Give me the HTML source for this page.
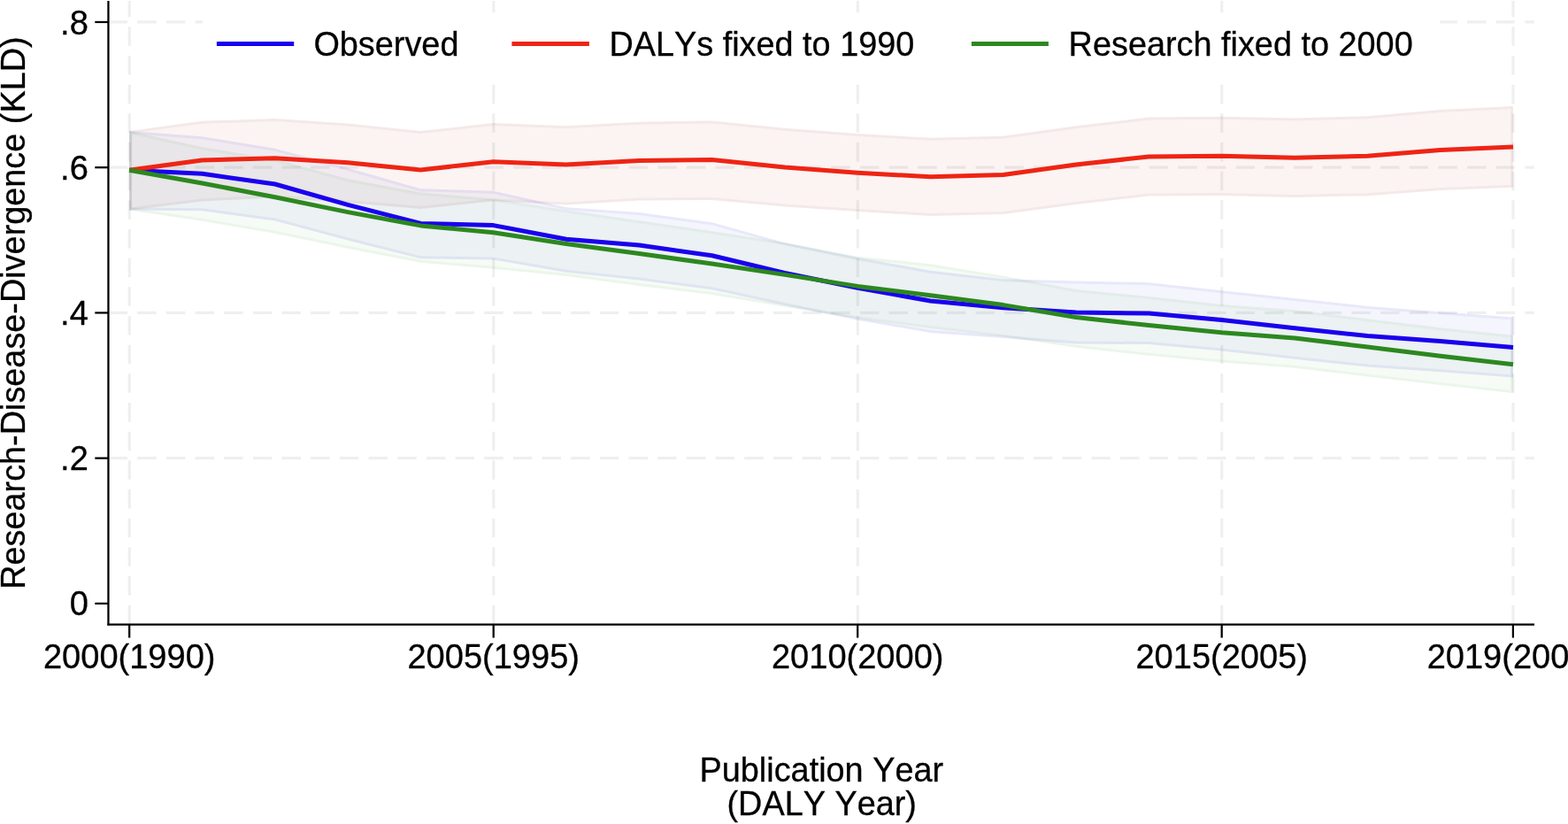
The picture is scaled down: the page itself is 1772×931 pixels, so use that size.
<!DOCTYPE html>
<html lang="en">
<head>
<meta charset="utf-8">
<title>Research-Disease-Divergence (KLD)</title>
<style>
html,body{margin:0;padding:0;background:#fff;}
body{width:1772px;height:931px;overflow:hidden;}
svg{display:block;}
text{font-kerning:none;font-family:"Liberation Sans",Arial,Helvetica,sans-serif;font-size:37.85px;fill:#000;stroke:#000;stroke-width:0.3px;}
.tk{font-size:38.05px;}
.grid line{stroke:#efefef;stroke-width:3.2;stroke-dasharray:21.5 11.17;}
.axis line{stroke:#000;stroke-width:2.25;}
.ln{fill:none;stroke-width:5;stroke-linejoin:round;stroke-linecap:butt;}
</style>
</head>
<body>
<svg width="1772" height="931" viewBox="0 0 1772 931">
<rect x="0" y="0" width="1772" height="931" fill="#fff"/>
<g class="grid">
<line x1="122.5" y1="24.95" x2="1733.8" y2="24.95"/>
<line x1="122.5" y1="189.2" x2="1733.8" y2="189.2"/>
<line x1="122.5" y1="353.43" x2="1733.8" y2="353.43"/>
<line x1="122.5" y1="517.66" x2="1733.8" y2="517.66"/>
<line x1="146.3" y1="705.2" x2="146.3" y2="1"/>
<line x1="557.8" y1="705.2" x2="557.8" y2="1"/>
<line x1="969.3" y1="705.2" x2="969.3" y2="1"/>
<line x1="1380.8" y1="705.2" x2="1380.8" y2="1"/>
<line x1="1710.0" y1="705.2" x2="1710.0" y2="1"/>
</g>
<defs>
<clipPath id="cb"><polygon points="146.1,148.1 228.4,154.2 310.7,167.7 393.0,189.8 475.3,213.2 557.6,215.8 639.9,234.2 722.2,240.0 804.6,251.2 886.9,274.2 969.2,291.0 1051.5,305.7 1133.8,315.2 1216.1,317.5 1298.4,319.2 1380.7,328.2 1463.1,336.9 1545.4,345.9 1627.7,352.3 1710.0,358.4 1710.0,426.5 1627.7,420.2 1545.4,414.5 1463.1,405.7 1380.7,396.5 1298.4,389.1 1216.1,388.4 1133.8,382.1 1051.5,376.0 969.2,361.8 886.9,345.0 804.6,327.3 722.2,316.5 639.9,307.7 557.6,293.5 475.3,292.3 393.0,271.4 310.7,249.5 228.4,238.2 146.1,237.5"/></clipPath>
<clipPath id="cr"><polygon points="146.1,148.1 228.4,136.8 310.7,133.9 393.0,139.4 475.3,148.1 557.6,139.1 639.9,142.2 722.2,137.7 804.6,136.5 886.9,144.8 969.2,150.9 1051.5,155.7 1133.8,153.7 1216.1,142.3 1298.4,132.6 1380.7,131.7 1463.1,133.4 1545.4,131.2 1627.7,124.0 1710.0,120.0 1710.0,211.8 1627.7,215.1 1545.4,221.2 1463.1,223.0 1380.7,221.0 1298.4,221.4 1216.1,230.9 1133.8,241.9 1051.5,243.9 969.2,239.1 886.9,233.4 804.6,226.0 722.2,226.6 639.9,231.6 557.6,227.2 475.3,236.1 393.0,229.1 310.7,223.2 228.4,227.6 146.1,237.5"/></clipPath>
<clipPath id="cg"><polygon points="146.1,148.1 228.4,166.2 310.7,179.7 393.0,202.2 475.3,217.6 557.6,224.5 639.9,237.2 722.2,249.2 804.6,261.2 886.9,273.9 969.2,289.7 1051.5,298.2 1133.8,311.7 1216.1,327.1 1298.4,335.0 1380.7,344.1 1463.1,350.2 1545.4,360.2 1627.7,370.2 1710.0,378.7 1710.0,444.3 1627.7,435.0 1545.4,425.6 1463.1,415.8 1380.7,409.6 1298.4,401.8 1216.1,392.8 1133.8,380.6 1051.5,371.0 969.2,360.1 886.9,346.8 804.6,333.0 722.2,322.9 639.9,311.9 557.6,303.8 475.3,296.8 393.0,280.8 310.7,263.8 228.4,249.8 146.1,237.5"/></clipPath>
</defs>
<polygon points="146.1,148.1 228.4,154.2 310.7,167.7 393.0,189.8 475.3,213.2 557.6,215.8 639.9,234.2 722.2,240.0 804.6,251.2 886.9,274.2 969.2,291.0 1051.5,305.7 1133.8,315.2 1216.1,317.5 1298.4,319.2 1380.7,328.2 1463.1,336.9 1545.4,345.9 1627.7,352.3 1710.0,358.4 1710.0,426.5 1627.7,420.2 1545.4,414.5 1463.1,405.7 1380.7,396.5 1298.4,389.1 1216.1,388.4 1133.8,382.1 1051.5,376.0 969.2,361.8 886.9,345.0 804.6,327.3 722.2,316.5 639.9,307.7 557.6,293.5 475.3,292.3 393.0,271.4 310.7,249.5 228.4,238.2 146.1,237.5" fill="#1e1ec8" fill-opacity="0.045"/>
<polygon points="146.1,148.1 228.4,154.2 310.7,167.7 393.0,189.8 475.3,213.2 557.6,215.8 639.9,234.2 722.2,240.0 804.6,251.2 886.9,274.2 969.2,291.0 1051.5,305.7 1133.8,315.2 1216.1,317.5 1298.4,319.2 1380.7,328.2 1463.1,336.9 1545.4,345.9 1627.7,352.3 1710.0,358.4 1710.0,426.5 1627.7,420.2 1545.4,414.5 1463.1,405.7 1380.7,396.5 1298.4,389.1 1216.1,388.4 1133.8,382.1 1051.5,376.0 969.2,361.8 886.9,345.0 804.6,327.3 722.2,316.5 639.9,307.7 557.6,293.5 475.3,292.3 393.0,271.4 310.7,249.5 228.4,238.2 146.1,237.5" fill="none" stroke="#1e1ec8" stroke-opacity="0.06" stroke-width="6" stroke-linejoin="miter" clip-path="url(#cb)"/>
<polygon points="146.1,148.1 228.4,136.8 310.7,133.9 393.0,139.4 475.3,148.1 557.6,139.1 639.9,142.2 722.2,137.7 804.6,136.5 886.9,144.8 969.2,150.9 1051.5,155.7 1133.8,153.7 1216.1,142.3 1298.4,132.6 1380.7,131.7 1463.1,133.4 1545.4,131.2 1627.7,124.0 1710.0,120.0 1710.0,211.8 1627.7,215.1 1545.4,221.2 1463.1,223.0 1380.7,221.0 1298.4,221.4 1216.1,230.9 1133.8,241.9 1051.5,243.9 969.2,239.1 886.9,233.4 804.6,226.0 722.2,226.6 639.9,231.6 557.6,227.2 475.3,236.1 393.0,229.1 310.7,223.2 228.4,227.6 146.1,237.5" fill="#aa2819" fill-opacity="0.05"/>
<polygon points="146.1,148.1 228.4,136.8 310.7,133.9 393.0,139.4 475.3,148.1 557.6,139.1 639.9,142.2 722.2,137.7 804.6,136.5 886.9,144.8 969.2,150.9 1051.5,155.7 1133.8,153.7 1216.1,142.3 1298.4,132.6 1380.7,131.7 1463.1,133.4 1545.4,131.2 1627.7,124.0 1710.0,120.0 1710.0,211.8 1627.7,215.1 1545.4,221.2 1463.1,223.0 1380.7,221.0 1298.4,221.4 1216.1,230.9 1133.8,241.9 1051.5,243.9 969.2,239.1 886.9,233.4 804.6,226.0 722.2,226.6 639.9,231.6 557.6,227.2 475.3,236.1 393.0,229.1 310.7,223.2 228.4,227.6 146.1,237.5" fill="none" stroke="#78281e" stroke-opacity="0.05" stroke-width="6" stroke-linejoin="miter" clip-path="url(#cr)"/>
<polygon points="146.1,148.1 228.4,166.2 310.7,179.7 393.0,202.2 475.3,217.6 557.6,224.5 639.9,237.2 722.2,249.2 804.6,261.2 886.9,273.9 969.2,289.7 1051.5,298.2 1133.8,311.7 1216.1,327.1 1298.4,335.0 1380.7,344.1 1463.1,350.2 1545.4,360.2 1627.7,370.2 1710.0,378.7 1710.0,444.3 1627.7,435.0 1545.4,425.6 1463.1,415.8 1380.7,409.6 1298.4,401.8 1216.1,392.8 1133.8,380.6 1051.5,371.0 969.2,360.1 886.9,346.8 804.6,333.0 722.2,322.9 639.9,311.9 557.6,303.8 475.3,296.8 393.0,280.8 310.7,263.8 228.4,249.8 146.1,237.5" fill="#1e961e" fill-opacity="0.04"/>
<polygon points="146.1,148.1 228.4,166.2 310.7,179.7 393.0,202.2 475.3,217.6 557.6,224.5 639.9,237.2 722.2,249.2 804.6,261.2 886.9,273.9 969.2,289.7 1051.5,298.2 1133.8,311.7 1216.1,327.1 1298.4,335.0 1380.7,344.1 1463.1,350.2 1545.4,360.2 1627.7,370.2 1710.0,378.7 1710.0,444.3 1627.7,435.0 1545.4,425.6 1463.1,415.8 1380.7,409.6 1298.4,401.8 1216.1,392.8 1133.8,380.6 1051.5,371.0 969.2,360.1 886.9,346.8 804.6,333.0 722.2,322.9 639.9,311.9 557.6,303.8 475.3,296.8 393.0,280.8 310.7,263.8 228.4,249.8 146.1,237.5" fill="none" stroke="#1e961e" stroke-opacity="0.05" stroke-width="6" stroke-linejoin="miter" clip-path="url(#cg)"/>
<polyline class="ln" stroke="#1900EE" points="146.1,192.2 228.4,196.3 310.7,208.0 393.0,231.4 475.3,252.4 557.6,254.6 639.9,270.3 722.2,277.1 804.6,288.7 886.9,308.5 969.2,325.3 1051.5,340.0 1133.8,347.7 1216.1,353.1 1298.4,354.0 1380.7,361.4 1463.1,370.7 1545.4,379.6 1627.7,385.4 1710.0,392.6"/>
<polyline class="ln" stroke="#EF2414" points="146.1,192.2 228.4,181.0 310.7,178.7 393.0,183.7 475.3,192.0 557.6,182.8 639.9,186.1 722.2,181.6 804.6,180.5 886.9,189.0 969.2,195.3 1051.5,199.8 1133.8,197.5 1216.1,186.0 1298.4,177.0 1380.7,176.3 1463.1,178.2 1545.4,176.3 1627.7,169.5 1710.0,166.0"/>
<polyline class="ln" stroke="#2C881F" points="146.1,192.2 228.4,207.0 310.7,222.7 393.0,239.6 475.3,254.9 557.6,262.7 639.9,275.5 722.2,286.6 804.6,298.0 886.9,310.4 969.2,323.4 1051.5,333.8 1133.8,344.6 1216.1,358.5 1298.4,367.5 1380.7,375.8 1463.1,382.0 1545.4,392.0 1627.7,402.3 1710.0,411.7"/>
<rect x="229.1" y="14" width="1398.3" height="81" fill="#fff"/>
<line x1="244.9" y1="49.45" x2="332.2" y2="49.45" stroke="#1900EE" stroke-width="5"/>
<text transform="translate(354.4 63.2) scale(1 1.022)" text-anchor="start">Observed</text>
<line x1="578.4" y1="49.45" x2="665.9" y2="49.45" stroke="#EF2414" stroke-width="5"/>
<text transform="translate(688.4 63.2) scale(1 1.022)" text-anchor="start">DALYs fixed to 1990</text>
<line x1="1097.9" y1="49.45" x2="1184.9" y2="49.45" stroke="#2C881F" stroke-width="5"/>
<text transform="translate(1207.6 63.2) scale(1 1.022)" text-anchor="start">Research fixed to 2000</text>
<g class="axis">
<line x1="122.45" y1="1" x2="122.45" y2="706.6"/>
<line x1="121.35" y1="705.5" x2="1734" y2="705.5"/>
<line x1="107.3" y1="24.95" x2="122.45" y2="24.95"/>
<line x1="107.3" y1="189.2" x2="122.45" y2="189.2"/>
<line x1="107.3" y1="353.43" x2="122.45" y2="353.43"/>
<line x1="107.3" y1="517.66" x2="122.45" y2="517.66"/>
<line x1="107.3" y1="681.9" x2="122.45" y2="681.9"/>
<line x1="146.2" y1="705.5" x2="146.2" y2="720.6"/>
<line x1="557.7" y1="705.5" x2="557.7" y2="720.6"/>
<line x1="969.2" y1="705.5" x2="969.2" y2="720.6"/>
<line x1="1380.7" y1="705.5" x2="1380.7" y2="720.6"/>
<line x1="1709.9" y1="705.5" x2="1709.9" y2="720.6"/>
</g>
<text class="tk" transform="translate(99.8 38.5) scale(1 1.04)" text-anchor="end">.8</text>
<text class="tk" transform="translate(99.8 202.7) scale(1 1.04)" text-anchor="end">.6</text>
<text class="tk" transform="translate(99.8 366.9) scale(1 1.04)" text-anchor="end">.4</text>
<text class="tk" transform="translate(99.8 531.2) scale(1 1.04)" text-anchor="end">.2</text>
<text class="tk" transform="translate(99.8 695.4) scale(1 1.04)" text-anchor="end">0</text>
<text class="tk" transform="translate(146.2 755.3) scale(1 1.04)" text-anchor="middle">2000(1990)</text>
<text class="tk" transform="translate(557.7 755.3) scale(1 1.04)" text-anchor="middle">2005(1995)</text>
<text class="tk" transform="translate(969.2 755.3) scale(1 1.04)" text-anchor="middle">2010(2000)</text>
<text class="tk" transform="translate(1380.7 755.3) scale(1 1.04)" text-anchor="middle">2015(2005)</text>
<text class="tk" transform="translate(1709.9 755.3) scale(1 1.04)" text-anchor="middle">2019(2009)</text>
<text transform="translate(928.3 883.2) scale(1 1.022)" text-anchor="middle">Publication Year</text>
<text transform="translate(928.7 921.4) scale(1 1.022)" text-anchor="middle">(DALY Year)</text>
<text transform="translate(28.3 353.6) rotate(-90) scale(1 1.022)" text-anchor="middle">Research-Disease-Divergence (KLD)</text>
</svg>
</body>
</html>
